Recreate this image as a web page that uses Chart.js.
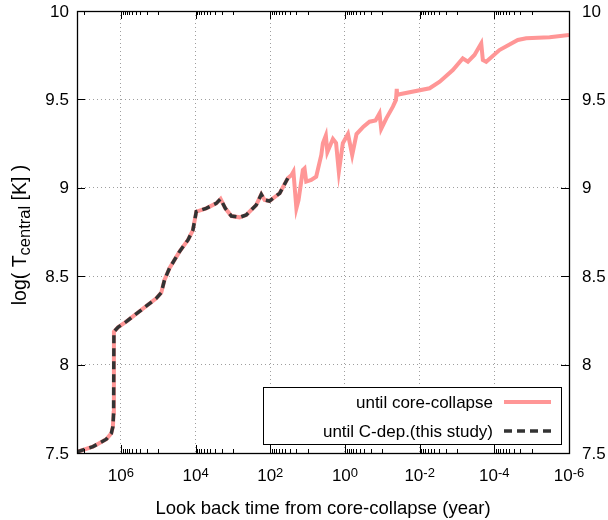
<!DOCTYPE html>
<html><head><meta charset="utf-8">
<script src="https://cdn.jsdelivr.net/npm/chart.js@4"></script>
<style>html,body{margin:0;padding:0;background:#fff;}</style>
</head><body>
<canvas id="c" width="608" height="520"></canvas>
<script>
// ---- data ----
// C-dep track (this study): look-back time [yr], log central temperature
const cdepTime = [1.5e7, 5.6e6, 2.46e6, 1.81e6, 1.64e6, 1.57e6, 1.54e6, 1.2e6, 7.2e5, 1.13e5,
  8.3e4, 6.8e4, 5.0e4, 2.7e4, 1.6e4, 1.18e4, 9.6e3, 5.2e3, 2.8e3, 2.14e3,
  1.6e3, 1.1e3, 664, 440, 237, 174, 142, 105, 56, 34];
const cdepTemp = [7.506, 7.536, 7.578, 7.611, 7.649, 7.726, 8.186, 8.211, 8.243, 8.375,
  8.407, 8.479, 8.545, 8.639, 8.705, 8.761, 8.865, 8.884, 8.912, 8.937,
  8.884, 8.840, 8.833, 8.846, 8.903, 8.963, 8.931, 8.925, 8.969, 9.054];
// continuation of the core-collapse track beyond C depletion
const extTime = [27, 24, 20, 17.5, 13.4, 12.1, 10.9, 8.0, 5.9, 4.3,
  3.9, 3.25, 2.96, 2.1, 1.73, 1.46, 1.14, 0.83, 0.64, 0.49,
  0.32, 0.22, 0.152, 0.119, 0.107, 0.078, 0.052, 0.043, 0.041, 0.040,
  0.0345, 0.0054, 0.0029, 0.00129, 7.0e-4, 5.1e-4, 3.4e-4, 2.24e-4, 2.03e-4, 1.65e-4,
  7.3e-5, 2.35e-5, 1.4e-5, 3.3e-6, 1.0e-6];
const extTemp = [9.072, 9.091, 8.884, 8.931, 9.101, 9.110, 9.035, 9.044, 9.063, 9.186,
  9.252, 9.296, 9.202, 9.276, 9.253, 9.091, 9.252, 9.304, 9.186, 9.304,
  9.346, 9.374, 9.381, 9.421, 9.333, 9.393, 9.459, 9.497, 9.559, 9.525,
  9.529, 9.563, 9.600, 9.666, 9.732, 9.713, 9.751, 9.817, 9.723, 9.713,
  9.779, 9.836, 9.846, 9.851, 9.864];
const xTickExponents = [6, 4, 2, 0, -2, -4, -6];
const yTickValues = [7.5, 8, 8.5, 9, 9.5, 10];
const yTickLabels = ['7.5', '8', '8.5', '9', '9.5', '10'];
const seriesLabels = ['until core-collapse', 'until C-dep.(this study)'];
const xTitle = 'Look back time from core-collapse (year)';
const yTitleParts = ['log( T', 'central', ' [K] )'];
const xLo = 1e-6, xHi = 1.5e7, yMin = 7.5, yMax = 10;

// ---- build ----
const ccTime = cdepTime.concat(extTime);
const ccTemp = cdepTemp.concat(extTemp);
const toPts = (xs, ys) => xs.map((v, i) => ({x: v, y: ys[i]}));
const PINK = 'rgb(255,150,150)';
const DARK = 'rgb(51,51,51)';
const FONT = '"Liberation Sans", Arial, sans-serif';
const GRID = 'rgba(0,0,0,0.38)';

const deco = {
  id: 'deco',
  afterDraw(chart) {
    const {ctx, chartArea: a, scales: {x, y}} = chart;
    ctx.save();
    // tick marks (inward, mirrored)
    ctx.strokeStyle = '#000';
    ctx.lineWidth = 1;
    const tx = (v, len) => {
      const px = Math.round(x.getPixelForValue(v)) + 0.5;
      ctx.beginPath();
      ctx.moveTo(px, a.bottom); ctx.lineTo(px, a.bottom - len);
      ctx.moveTo(px, a.top); ctx.lineTo(px, a.top + len);
      ctx.stroke();
    };
    xTickExponents.forEach(e => tx(Math.pow(10, e), 8));
    for (let m = -5; m <= 7; m += 2) {
      for (let k = 1; k <= 9; k++) {
        const v = k * Math.pow(10, m);
        if (v <= xHi && v >= xLo) tx(v, 4);
      }
    }
    yTickValues.forEach(v => {
      const py = Math.round(y.getPixelForValue(v)) + 0.5;
      ctx.beginPath();
      ctx.moveTo(a.left, py); ctx.lineTo(a.left + 8, py);
      ctx.moveTo(a.right, py); ctx.lineTo(a.right - 8, py);
      ctx.stroke();
    });
    // frame
    ctx.lineWidth = 1.3;
    ctx.strokeRect(a.left + 0.5, a.top + 0.5, a.right - a.left, a.bottom - a.top);

    // y tick labels both sides
    ctx.fillStyle = '#000';
    ctx.font = '17px ' + FONT;
    ctx.textBaseline = 'middle';
    yTickValues.forEach((v, i) => {
      const py = y.getPixelForValue(v) + 1;
      ctx.textAlign = 'right';
      ctx.fillText(yTickLabels[i], a.left - 8, py);
      ctx.textAlign = 'left';
      ctx.fillText(yTickLabels[i], a.right + 13, py);
    });
    // x tick labels with superscripts
    ctx.textBaseline = 'alphabetic';
    ctx.textAlign = 'left';
    xTickExponents.forEach(e => {
      const px = x.getPixelForValue(Math.pow(10, e));
      ctx.font = '17px ' + FONT;
      const w1 = ctx.measureText('10').width;
      ctx.font = '13px ' + FONT;
      const s = String(e);
      const w2 = ctx.measureText(s).width;
      const x0 = px - (w1 + w2) / 2;
      ctx.font = '17px ' + FONT;
      ctx.fillText('10', x0, 481);
      ctx.font = '13px ' + FONT;
      ctx.fillText(s, x0 + w1, 477);
    });
    // x title
    ctx.font = '18.5px ' + FONT;
    ctx.textAlign = 'center';
    ctx.fillText(xTitle, (a.left + a.right) / 2, 514);
    // y title with subscript
    ctx.save();
    ctx.translate(20, 235);
    ctx.rotate(-Math.PI / 2);
    ctx.textAlign = 'left';
    const sizes = [19.5, 16.5, 19.5], offs = [0, 4, 0];
    let tot = 0;
    const ws = yTitleParts.map((t, i) => { ctx.font = sizes[i] + 'px ' + FONT; const w = ctx.measureText(t).width; tot += w; return w; });
    let cx = -tot / 2;
    yTitleParts.forEach((t, i) => { ctx.font = sizes[i] + 'px ' + FONT; ctx.fillText(t, cx, 6 + offs[i]); cx += ws[i]; });
    ctx.restore();

    // legend
    ctx.fillStyle = '#fff';
    ctx.fillRect(263, 387, 298, 57);
    ctx.strokeStyle = '#000';
    ctx.lineWidth = 1;
    ctx.strokeRect(263.5, 387.5, 298, 57);
    ctx.fillStyle = '#000';
    ctx.font = '17px ' + FONT;
    ctx.textAlign = 'right';
    ctx.fillText(seriesLabels[0], 493, 407.5);
    ctx.fillText(seriesLabels[1], 493, 436.5);
    ctx.lineWidth = 4;
    ctx.strokeStyle = PINK;
    ctx.beginPath(); ctx.moveTo(504, 402); ctx.lineTo(551, 402); ctx.stroke();
    ctx.lineWidth = 3.5;
    ctx.strokeStyle = DARK;
    ctx.setLineDash([8, 5]);
    ctx.beginPath(); ctx.moveTo(504, 431); ctx.lineTo(551, 431); ctx.stroke();
    ctx.restore();
  }
};

new Chart(document.getElementById('c'), {
  type: 'line',
  data: {
    datasets: [
      {label: seriesLabels[1], data: toPts(cdepTime, cdepTemp), borderColor: DARK, borderWidth: 3.5,
       borderDash: [8, 5], pointRadius: 0, tension: 0, order: 0},
      {label: seriesLabels[0], data: toPts(ccTime, ccTemp), borderColor: PINK, borderWidth: 4,
       pointRadius: 0, tension: 0, order: 1}
    ]
  },
  options: {
    responsive: false,
    animation: false,
    devicePixelRatio: 1,
    layout: {padding: {left: 77, right: 39, top: 11, bottom: 67}},
    plugins: {legend: {display: false}, tooltip: {enabled: false}},
    scales: {
      x: {
        type: 'logarithmic', reverse: true, min: xLo, max: xHi,
        afterBuildTicks: s => { s.ticks = xTickExponents.map(e => ({value: Math.pow(10, e)})); },
        ticks: {display: false},
        grid: {color: GRID, lineWidth: 1, drawTicks: false},
        border: {display: false, dash: [1, 3]}
      },
      y: {
        type: 'linear', min: yMin, max: yMax,
        ticks: {display: false, stepSize: 0.5},
        grid: {color: GRID, lineWidth: 1, drawTicks: false},
        border: {display: false, dash: [1, 3]}
      }
    }
  },
  plugins: [deco]
});
</script>
</body></html>
